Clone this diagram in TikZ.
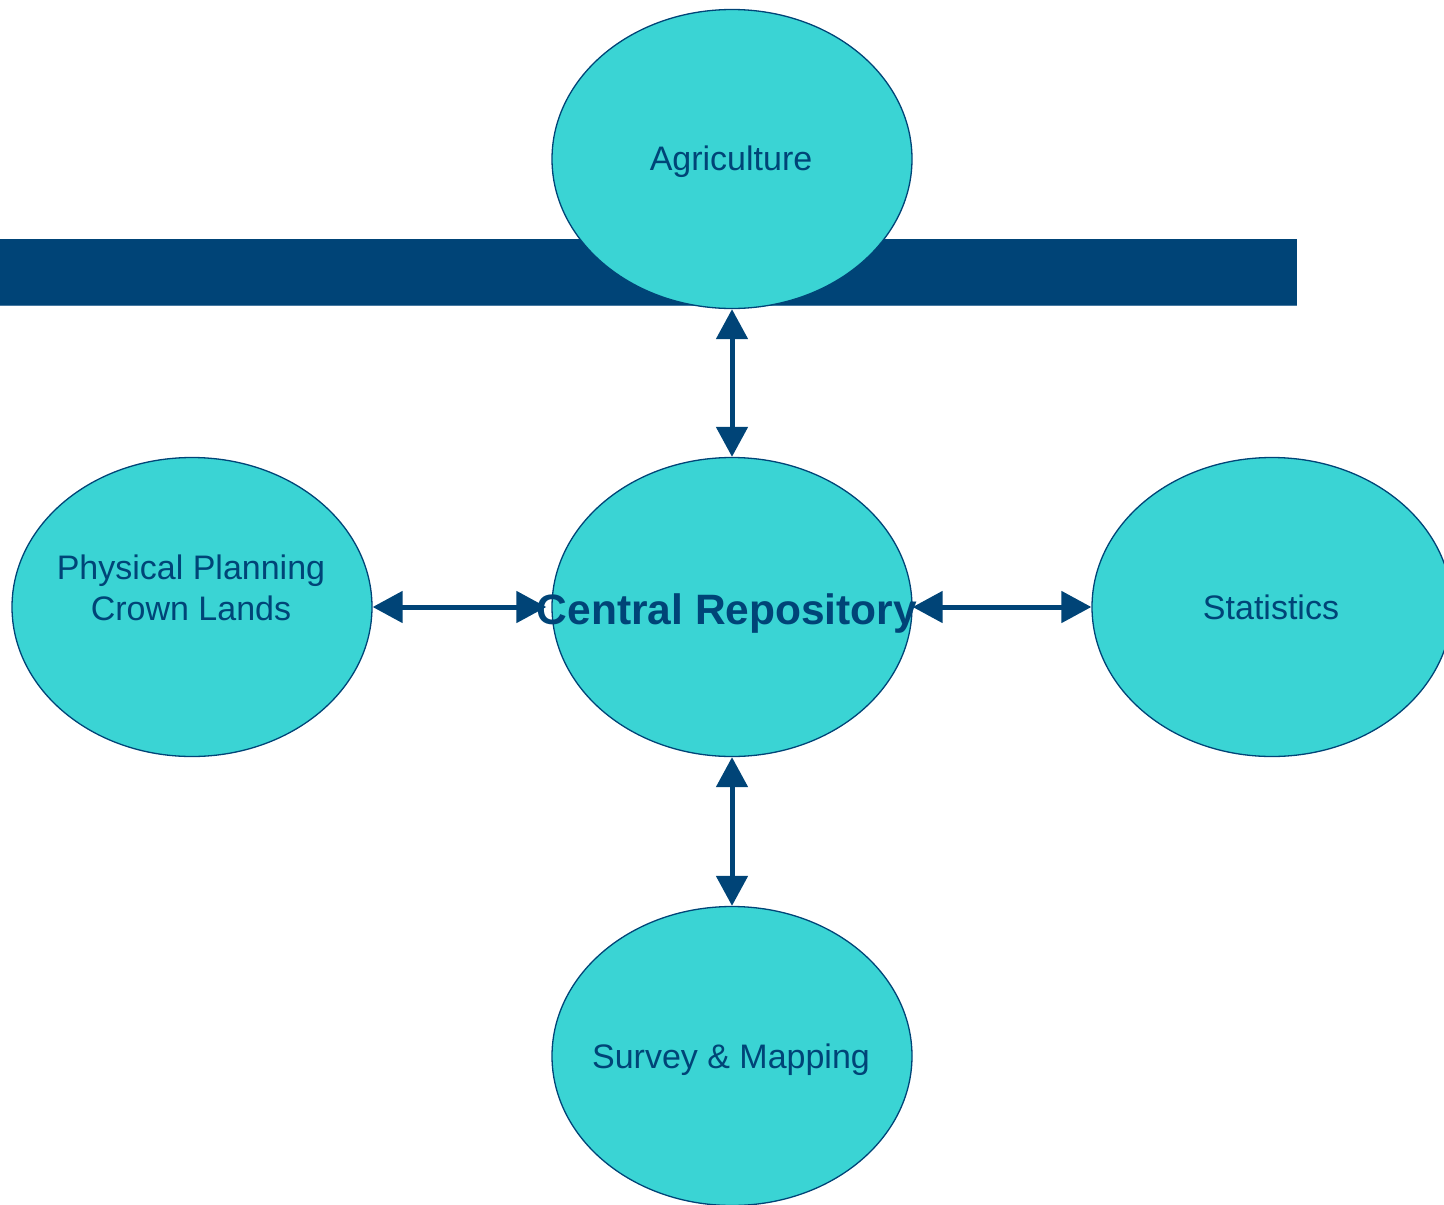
\documentclass[tikz,border=0pt]{standalone}
\usepackage{fontspec}
\setmainfont{Liberation Sans}
\usetikzlibrary{shapes.geometric,arrows.meta}
\definecolor{turq}{RGB}{58,212,212}
\definecolor{navy}{RGB}{0,68,119}
\definecolor{barline}{RGB}{70,120,160}
\tikzset{
  dept/.style={ellipse, draw=navy, line width=1.3pt, fill=turq, minimum width=360pt, minimum height=299pt, inner sep=0pt},
  link/.style={navy, line width=5pt, {Triangle[length=30pt,width=31pt]}-{Triangle[length=30pt,width=31pt]}},
  lbl/.style={text=navy, align=center, inner sep=0pt, font=\fontsize{34}{41}\selectfont},
  lblbase/.style={lbl, anchor=base}
}
\begin{document}
\begin{tikzpicture}[x=1pt,y=-1pt]
\useasboundingbox (0,0) rectangle (1444,1205);
% header bar
\fill[navy] (0,239) rectangle (1297,305);
\draw[barline, line width=1pt] (0,305) -- (1297,305);
% ellipses
\node[dept] (agri) at (732,159) {};
\node[dept] (central) at (732,607) {};
\node[dept] (phys) at (192,607) {};
\node[dept] (stats) at (1272,607) {};
\node[dept] (survey) at (732,1056) {};
% connectors
\draw[link] (agri.south) -- (central.north);
\draw[link] (phys.east) -- ([xshift=-5pt]central.west);
\draw[link] (central.east) -- (stats.west);
\draw[link] (central.south) -- (survey.north);
% labels
\node[lblbase] (agrilbl) at (731,170) {Agriculture};
\node[lblbase] (statslbl) at (1271,619) {Statistics};
\node[lblbase] (surveylbl) at (731,1068) {Survey \& Mapping};
\node[lbl] (physlbl) at (191,588) {Physical Planning\\Crown Lands};
\node[text=navy, inner sep=0pt, anchor=base, font=\fontsize{42.5}{50}\selectfont\bfseries] (centrallbl) at (727,624) {Central Repository};
\end{tikzpicture}
\end{document}
